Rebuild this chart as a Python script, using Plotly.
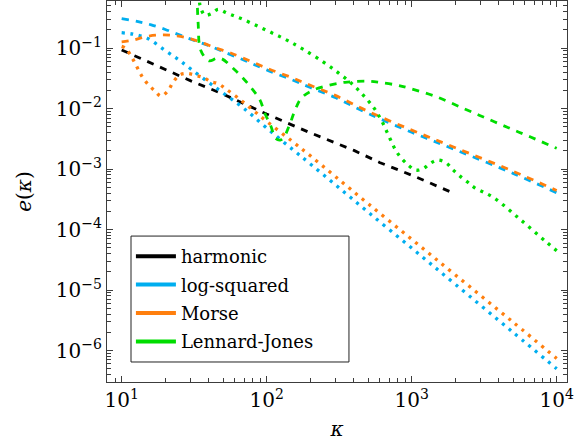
import plotly.graph_objects as go

# ---------------- data ----------------
harm_k = [10, 20, 30, 50, 100, 200, 400, 600, 1000, 2000]
harm_e = [0.0933, 0.0447, 0.0288, 0.0174, 0.00813, 0.00398, 0.00204, 0.00129, 0.000794, 0.000389]

logsq_dash_k = [10, 13, 16, 20, 25, 32, 40, 50, 70, 100, 150, 200, 300, 500, 1000, 2000, 5000, 10000]
logsq_dash_e = [0.309, 0.275, 0.243, 0.204, 0.166, 0.133, 0.110, 0.0881, 0.0631, 0.0437, 0.0299,
                0.0224, 0.0151, 0.00832, 0.00407, 0.00209, 0.000851, 0.000407]

logsq_dot_k = [10, 12, 15, 20, 25, 30, 40, 50, 70, 100, 150, 200, 300, 500, 1000, 2000, 5000, 10000]
logsq_dot_e = [0.180, 0.170, 0.146, 0.0912, 0.0631, 0.0452, 0.0269, 0.0182, 0.0100, 0.00479, 0.00214,
               0.00122, 0.000543, 0.000195, 4.95e-5, 1.245e-5, 2.0e-6, 5.0e-7]

morse_dash_k = [10, 12, 15, 19, 24, 30, 37, 45, 55, 70, 100, 150, 200, 300, 500, 1000, 2000, 5000, 10000]
morse_dash_e = [0.127, 0.136, 0.157, 0.166, 0.160, 0.143, 0.120, 0.100, 0.0851, 0.0676, 0.0468, 0.0324,
                0.0243, 0.0164, 0.00902, 0.00442, 0.00226, 0.000923, 0.000442]

morse_dot_k = [10, 10.7, 11.7, 12.4, 13.2, 14.1, 15.4, 17, 18.7, 21, 22.5, 25, 28, 32, 37, 41, 46, 52,
               64, 80, 100, 150, 200, 300, 500, 1000, 2000, 5000, 10000]
morse_dot_e = [0.107, 0.0989, 0.0718, 0.0558, 0.0417, 0.0316, 0.0245, 0.0195, 0.0161, 0.0202, 0.0267,
               0.0358, 0.0382, 0.0358, 0.0324, 0.0279, 0.0261, 0.0214, 0.0148, 0.00955, 0.00617,
               0.00288, 0.00166, 0.000741, 0.000269, 6.92e-5, 1.78e-5, 2.95e-6, 7.41e-7]

lj_dash_k = [33.1, 33.7, 35.1, 40, 45, 49, 58.9, 69, 78.9, 90, 97.3, 107, 115, 124, 132, 145, 157,
             173, 209, 321, 375, 490, 603, 789, 973, 1486, 2270, 3289, 4764, 6546, 10000]
lj_dash_e = [0.794, 0.256, 0.0927, 0.0617, 0.0676, 0.0668, 0.0461, 0.0316, 0.0216, 0.0138, 0.00832,
             0.00513, 0.00324, 0.00302, 0.00342, 0.00569, 0.00944, 0.0148, 0.0202, 0.0267, 0.0277,
             0.0285, 0.0271, 0.0245, 0.0216, 0.0157, 0.0101, 0.00689, 0.00471, 0.00342, 0.00221]

lj_dot_k = [34.3, 34.7, 37.5, 41.7, 46.3, 53, 60.4, 69, 86.7, 111, 141, 179, 245, 312, 385, 463, 552,
            631, 708, 800, 957, 1072, 1202, 1337, 1510, 1726, 1936, 2153, 2415, 2692, 3656, 5585,
            8433, 10000]
lj_dot_e = [0.794, 0.514, 0.351, 0.374, 0.437, 0.383, 0.338, 0.298, 0.231, 0.175, 0.132, 0.0955,
            0.0594, 0.0391, 0.0261, 0.0167, 0.0101, 0.00582, 0.00321, 0.00182, 0.00114, 0.000962,
            0.00102, 0.00124, 0.00141, 0.00127, 0.000962, 0.000766, 0.000617, 0.000501, 0.00034,
            0.000148, 6.31e-5, 4.47e-5]

names = ["harmonic", "log-squared", "Morse", "Lennard-Jones"]
colors = ["#000000", "#00AEEF", "#FF7F0E", "#00DD00"]

x_tickvals = [10, 100, 1000, 10000]
x_ticktext = ["10<sup>1</sup>", "10<sup>2</sup>", "10<sup>3</sup>", "10<sup>4</sup>"]
y_tickvals = [1e-6, 1e-5, 1e-4, 1e-3, 1e-2, 1e-1]
y_ticktext = ["10<sup>\u22126</sup>", "10<sup>\u22125</sup>", "10<sup>\u22124</sup>",
              "10<sup>\u22123</sup>", "10<sup>\u22122</sup>", "10<sup>\u22121</sup>"]

# ---------------- figure ----------------
FONT = "DejaVu Serif"
FS = 20
LFS = 18
DASH = "7px,7px"
DOT = "3px,5.6px"
LW = 2.8

fig = go.Figure()

def add(k, e, color, dash, width=LW, shape="linear"):
    fig.add_trace(go.Scatter(x=k, y=e, mode="lines", showlegend=False, hoverinfo="skip",
                             line=dict(color=color, width=width, dash=dash, shape=shape)))

add(harm_k, harm_e, colors[0], DASH)
add(logsq_dash_k, logsq_dash_e, colors[1], DASH, shape="spline")
add(logsq_dot_k, logsq_dot_e, colors[1], DOT, 3.3, "spline")
add(morse_dash_k, morse_dash_e, colors[2], DASH, shape="spline")
add(morse_dot_k, morse_dot_e, colors[2], DOT, 3.3, "spline")
add(lj_dash_k, lj_dash_e, colors[3], DASH, shape="spline")
add(lj_dot_k, lj_dot_e, colors[3], DOT, 3.3, "spline")

for n, c in zip(names, colors):
    fig.add_trace(go.Scatter(x=[None], y=[None], mode="lines", name=n, legendgroup=n,
                             line=dict(color=c, width=4)))

minor_x = [m * 10 ** d for d in range(0, 4) for m in range(2, 10)]
minor_y = [m * 10 ** d for d in range(-7, 0) for m in range(2, 10)]

axis_common = dict(
    type="log", showgrid=False, zeroline=False,
    showline=True, linecolor="#3c3c3c", linewidth=1.2, mirror="allticks",
    ticks="inside", ticklen=6, tickwidth=1, tickcolor="#3c3c3c",
    tickfont=dict(family=FONT, size=FS, color="black"),
)

fig.update_xaxes(
    **axis_common, range=[0.899, 4.071], tickmode="array",
    tickvals=x_tickvals, ticktext=x_ticktext,
    minor=dict(tickmode="array", tickvals=minor_x, ticks="inside", ticklen=3.5, tickcolor="#3c3c3c"),
    title=dict(text="<i>\u03ba</i>", font=dict(family=FONT, size=FS, color="black"), standoff=10),
)
fig.update_yaxes(
    **axis_common, range=[-6.52, -0.22], tickmode="array",
    tickvals=y_tickvals, ticktext=y_ticktext,
    minor=dict(tickmode="array", tickvals=minor_y, ticks="inside", ticklen=3.5, tickcolor="#3c3c3c"),
    title=dict(text="<i>e</i>(<i>\u03ba</i>)", font=dict(family=FONT, size=FS, color="black"), standoff=18),
)

# legend frame drawn as a shape so its width matches the reference
fig.add_shape(type="rect", xref="paper", yref="paper",
              x0=0.0522, x1=0.526, y0=0.0525, y1=0.383,
              fillcolor="white", line=dict(color="#222222", width=1), layer="above")

fig.update_layout(
    width=584, height=446,
    margin=dict(l=107, r=17, t=1, b=64),
    paper_bgcolor="white", plot_bgcolor="white",
    font=dict(family=FONT, size=FS, color="black"),
    legend=dict(
        x=0.052, y=0.378, xanchor="left", yanchor="top",
        bgcolor="rgba(0,0,0,0)", borderwidth=0,
        font=dict(family=FONT, size=LFS, color="black"),
        itemwidth=40, tracegroupgap=2,
    ),
)

fig.write_html("out.html")
